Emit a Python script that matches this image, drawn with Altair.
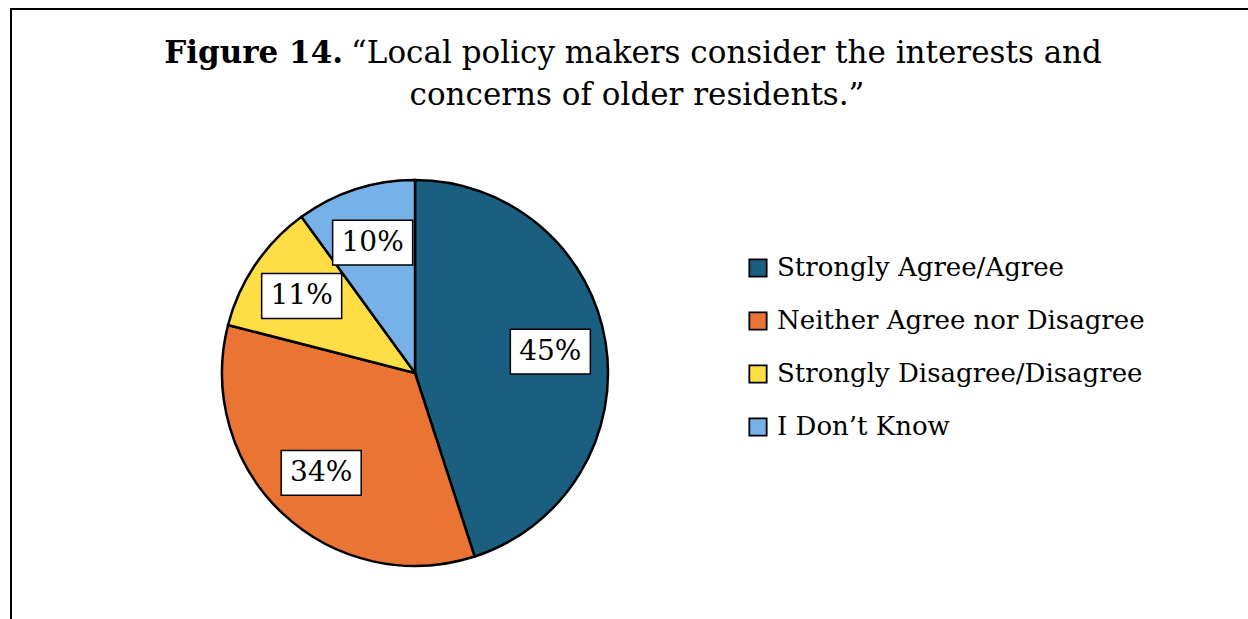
import math
import altair as alt
import pandas as pd

# Survey responses (percent of respondents)
categories = [
    "Strongly Agree/Agree",
    "Neither Agree nor Disagree",
    "Strongly Disagree/Disagree",
    "I Don’t Know",
]
percents = [45, 34, 11, 10]
colors = ["#1A5F80", "#E97434", "#FEDD45", "#76B2E8"]

title_bold = "Figure 14."
title_line1 = "“Local policy makers consider the interests and"
title_line2 = "concerns of older residents.”"

# Canvas / pie geometry (pixels)
W, H = 1248, 619
R = 193            # pie radius
CX, CY = 415, 373  # pie centre
LABEL_R = 0.71     # label distance as a fraction of the radius
FONT = "DejaVu Serif"

# Label anchor points at each slice's mid-angle, in radius units
total = sum(percents)
rows = []
cum = 0.0
for i, (c, p) in enumerate(zip(categories, percents)):
    mid = (cum + p / 2) / total * 2 * math.pi
    cum += p
    rows.append({
        "cat": c, "pct": p, "idx": i, "label": f"{p}%",
        "lx": LABEL_R * math.sin(mid), "ly": LABEL_R * math.cos(mid),
    })
df = pd.DataFrame(rows)

xs = alt.Scale(domain=[-CX / R, (W - CX) / R], zero=False, nice=False)
ys = alt.Scale(domain=[-(H - CY) / R, CY / R], zero=False, nice=False)

base = alt.Chart(df)

pie = base.mark_arc(radius=R, stroke="black", strokeWidth=2.5).encode(
    x=alt.X(datum=0, scale=xs, axis=None),
    y=alt.Y(datum=0, scale=ys, axis=None),
    theta=alt.Theta("pct:Q", stack=True),
    order=alt.Order("idx:Q"),
    fill=alt.Fill(
        "cat:N",
        scale=alt.Scale(domain=categories, range=colors),
        sort=categories,
        legend=alt.Legend(
            title=None, orient="none", legendX=745, legendY=255,
            direction="vertical",
            labelFont=FONT, labelFontSize=26, labelColor="black",
            symbolType="square", symbolSize=300,
            symbolStrokeColor="black", symbolStrokeWidth=1.8,
            rowPadding=27, labelOffset=6, labelLimit=600,
        ),
    ),
)

box_path = "M-1,-0.56H1V0.56H-1Z"
boxes = base.mark_point(
    shape=box_path, size=6400, filled=True, fill="white",
    stroke="black", strokeWidth=1.5, opacity=1,
).encode(
    x=alt.X("lx:Q", scale=xs, axis=None),
    y=alt.Y("ly:Q", scale=ys, axis=None),
)

labels = base.mark_text(font=FONT, fontSize=28, color="black",
                        baseline="middle", align="center").encode(
    x=alt.X("lx:Q", scale=xs, axis=None),
    y=alt.Y("ly:Q", scale=ys, axis=None),
    text="label:N",
)

tdf = pd.DataFrame({"t": [0]})
tb = alt.Chart(tdf)
t_bold = tb.mark_text(font=FONT, fontSize=31, fontWeight="bold", align="right",
                      baseline="alphabetic", color="black").encode(
    x=alt.value(343), y=alt.value(63), text=alt.value(title_bold))
t_l1 = tb.mark_text(font=FONT, fontSize=31, align="left",
                    baseline="alphabetic", color="black").encode(
    x=alt.value(351), y=alt.value(63), text=alt.value(title_line1))
t_l2 = tb.mark_text(font=FONT, fontSize=31, align="center",
                    baseline="alphabetic", color="black").encode(
    x=alt.value(637), y=alt.value(105), text=alt.value(title_line2))

# frame: top and left edges
frame_top = tb.mark_rule(color="black", strokeWidth=2).encode(
    x=alt.value(10), x2=alt.value(W), y=alt.value(9))
frame_left = tb.mark_rule(color="black", strokeWidth=2).encode(
    x=alt.value(11), y=alt.value(8), y2=alt.value(H))

chart = alt.layer(
    frame_top, frame_left, pie, boxes, labels, t_bold, t_l1, t_l2
).properties(
    width=W, height=H, padding=0, background="white",
    autosize=alt.AutoSizeParams(type="none"),
).configure_view(stroke=None)

chart.save("out.html", embed_options={"renderer": "svg", "actions": False})
